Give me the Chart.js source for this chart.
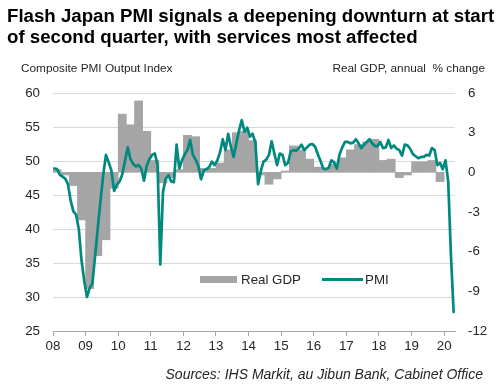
<!DOCTYPE html>
<html>
<head>
<meta charset="utf-8">
<script src="https://cdn.jsdelivr.net/npm/chart.js@4.4.1/dist/chart.umd.min.js"></script>
<style>
  html, body { margin: 0; padding: 0; background: #fff; }
  #wrap { position: relative; width: 502px; height: 386px; overflow: hidden; font-family: 'Liberation Sans', Arial, sans-serif; }
  #c { position: absolute; left: 0; top: 0; }
  .t { position: absolute; white-space: nowrap; }
  #title { left: 7px; top: 6px; font-size: 18.67px; font-weight: bold; line-height: 20.5px; color: #000; }
  #subL { left: 21px; top: 61px; font-size: 11.8px; color: #262626; }
  #subR { right: 17px; top: 61px; font-size: 11.8px; color: #262626; }
  #src { right: 19px; top: 366px; font-size: 14px; font-style: italic; color: #262626; }
  .lg { position: absolute; font-size: 13.33px; color: #262626; top: 272px; }
  .sw { position: absolute; }
</style>
</head>
<body>
<div id="wrap">
  <canvas id="c" width="502" height="386"></canvas>
  <div class="t" id="title">Flash Japan PMI signals a deepening downturn at start<br>of second quarter, with services most affected</div>
  <div class="t" id="subL">Composite PMI Output Index</div>
  <div class="t" id="subR">Real GDP, annual&nbsp; % change</div>
  <div class="sw" style="left:200px;top:276px;width:37px;height:7px;background:#A5A5A5"></div>
  <div class="lg" style="left:241px">Real GDP</div>
  <div class="sw" style="left:322px;top:278px;width:41px;height:3px;background:#00897F"></div>
  <div class="lg" style="left:365px">PMI</div>
  <div class="t" id="src">Sources: IHS Markit, au Jibun Bank, Cabinet Office</div>
</div>
<script>
// Monthly composite PMI, Jan 2008 - Apr 2020
const pmi = [
  48.9, 48.8, 48.0, 47.7, 47.4, 46.6, 44.2, 42.6, 42.1, 40.0, 35.4, 32.4, // 2008
  30.0, 31.3, 32.0, 36.0, 40.2, 44.2, 48.0, 50.9, 49.8, 48.6, 45.6, 46.5, // 2009
  47.0, 48.0, 50.0, 52.0, 50.3, 49.6, 49.2, 49.4, 48.9, 47.1, 49.3, 50.3, // 2010
  50.9, 51.1, 49.4, 34.8, 45.5, 47.4, 47.9, 47.0, 46.9, 52.4, 48.9, 50.1, // 2011
  51.0, 51.6, 53.1, 50.9, 50.2, 49.3, 47.3, 48.6, 48.8, 49.1, 49.9, 49.4, // 2012
  50.1, 51.3, 53.2, 51.6, 54.0, 52.1, 50.6, 52.6, 54.5, 56.0, 54.3, 54.9, // 2013
  53.6, 54.0, 52.7, 46.6, 48.5, 49.9, 50.2, 50.9, 52.9, 51.1, 49.4, 51.1, // 2014
  50.9, 49.4, 49.7, 51.4, 51.6, 51.5, 51.9, 52.4, 51.6, 52.0, 52.4, 52.5, // 2015
  52.1, 51.0, 50.0, 48.9, 48.8, 49.0, 50.1, 49.8, 48.9, 51.0, 52.0, 52.8, // 2016
  52.8, 52.6, 52.7, 53.2, 52.6, 51.9, 52.4, 52.8, 53.2, 52.6, 52.2, 52.2, // 2017
  52.8, 51.9, 52.0, 53.1, 51.9, 52.3, 51.8, 51.6, 50.8, 52.4, 52.3, 51.8, // 2018
  51.0, 50.7, 50.4, 50.6, 50.6, 50.9, 50.8, 51.9, 51.6, 49.4, 49.7, 48.8, // 2019
  50.1, 47.0, 36.2, 27.8                                                  // 2020
];
// Quarterly real GDP, annual % change, Q1 2008 - Q4 2019
const gdp = [
  0.2, -0.2, -1.0, -3.6,   // 2008
  -8.8, -6.3, -5.1, -1.2,  // 2009
  4.4, 3.6, 5.4, 3.1,      // 2010
  0.9, -0.8, -0.4, 0.2,    // 2011
  2.8, 2.7, 0.3, 0.3,      // 2012
  0.7, 1.7, 3.0, 3.1,      // 2013
  2.4, -0.2, -0.9, -0.5,   // 2014
  0.1, 2.0, 1.7, 1.0,      // 2015
  0.4, 0.3, 0.6, 1.1,      // 2016
  1.7, 2.1, 2.3, 2.5,      // 2017
  0.9, 1.0, -0.4, -0.2,    // 2018
  0.8, 0.8, 0.9, -0.7      // 2019
];
const startYear = 2008;
const xTickYears = [2008, 2009, 2010, 2011, 2012, 2013, 2014, 2015, 2016, 2017, 2018, 2019, 2020];
const xTickLabels = ['08', '09', '10', '11', '12', '13', '14', '15', '16', '17', '18', '19', '20'];
const leftTicks = [25, 30, 35, 40, 45, 50, 55, 60];
const rightTicks = [-12, -9, -6, -3, 0, 3, 6];

const pmiPoints = pmi.map((v, i) => ({ x: startYear + (i + 0.5) / 12, y: v }));
const gdpPoints = gdp.map((v, q) => ({ x: startYear + (q + 0.5) / 4, y: v }));

const FONT = "'Liberation Sans', Arial, sans-serif";
const TICK_COLOR = '#262626';

new Chart(document.getElementById('c'), {
  type: 'line',
  data: {
    datasets: [
      {
        type: 'line', label: 'PMI', data: pmiPoints, yAxisID: 'y',
        borderColor: '#00897F', borderWidth: 2.7, pointRadius: 0, tension: 0,
        fill: false, order: 0, borderJoinStyle: 'round', borderCapStyle: 'round'
      },
      {
        type: 'bar', label: 'Real GDP', data: gdpPoints, yAxisID: 'y2',
        backgroundColor: '#A5A5A5', borderWidth: 0,
        barPercentage: 1, categoryPercentage: 1, order: 1
      }
    ]
  },
  options: {
    responsive: false, animation: false, devicePixelRatio: 1,
    layout: { padding: { top: 93, left: 0, right: 0, bottom: 0 } },
    plugins: { legend: { display: false }, tooltip: { enabled: false }, title: { display: false } },
    scales: {
      x: {
        type: 'linear', offset: false, min: startYear, max: startYear + pmi.length / 12,
        afterBuildTicks: s => { s.ticks = xTickYears.map(v => ({ value: v })); },
        afterFit: s => { s.height = 55; },
        ticks: {
          callback: (v, i) => xTickLabels[i], autoSkip: false, maxRotation: 0,
          font: { family: FONT, size: 13.33 }, color: TICK_COLOR, padding: 2
        },
        grid: { offset: false, drawOnChartArea: false, drawTicks: true, tickLength: 5, color: '#A6A6A6' },
        border: { display: true, color: '#A6A6A6', width: 1 }
      },
      y: {
        type: 'linear', position: 'left', min: 25, max: 60,
        afterBuildTicks: s => { s.ticks = leftTicks.map(v => ({ value: v })); },
        afterFit: s => { s.width = 53; },
        ticks: { font: { family: FONT, size: 13.33 }, color: TICK_COLOR, padding: 13 },
        grid: { color: '#D9D9D9', lineWidth: 1, drawTicks: false },
        border: { display: false }
      },
      y2: {
        type: 'linear', position: 'right', min: -12, max: 6,
        afterBuildTicks: s => { s.ticks = rightTicks.map(v => ({ value: v })); },
        afterFit: s => { s.width = 47; },
        ticks: { font: { family: FONT, size: 13.33 }, color: TICK_COLOR, padding: 13 },
        grid: { display: false, drawTicks: false },
        border: { display: false }
      }
    }
  }
});
</script>
</body>
</html>
